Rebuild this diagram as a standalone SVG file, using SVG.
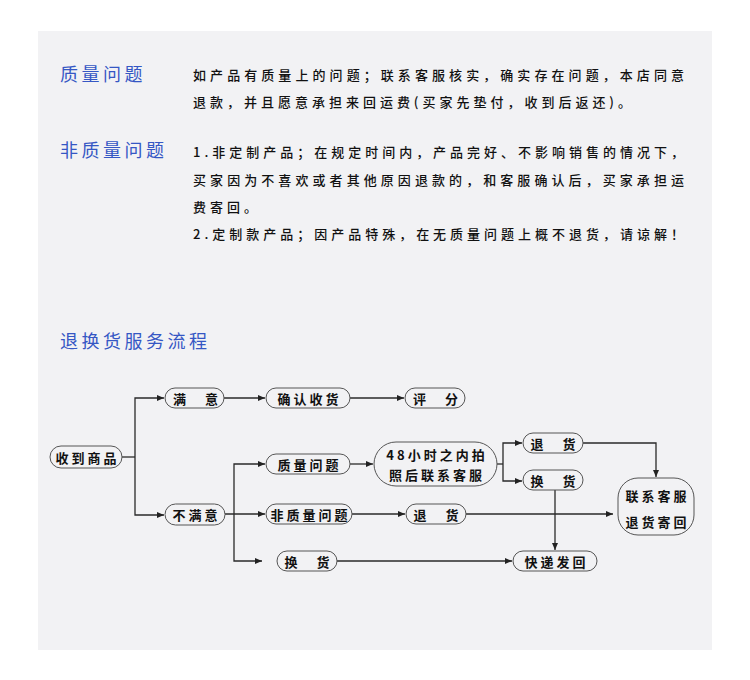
<svg xmlns="http://www.w3.org/2000/svg" width="750" height="680" viewBox="0 0 750 680">
<defs>
<marker id="arr" markerWidth="7" markerHeight="6" refX="7" refY="3" orient="auto" markerUnits="userSpaceOnUse">
<path d="M0,0 L7,3 L0,6 z" fill="#222"/>
</marker>
<style>
.h{font-family:"Noto Sans CJK SC","Noto Sans",sans-serif;font-size:18px;fill:#3557c4;letter-spacing:3.5px}
.b{font-family:"Noto Sans CJK SC","Noto Sans",sans-serif;font-size:13px;fill:#111;letter-spacing:4px;font-weight:500}
.p{fill:none;stroke:#555;stroke-width:1}
.t{font-family:"Noto Sans CJK SC","Noto Sans",sans-serif;font-size:13px;fill:#111;font-weight:600;text-anchor:middle;dominant-baseline:central;letter-spacing:3px}
.c{fill:none;stroke:#2a2a2a;stroke-width:1.3}
.a{marker-end:url(#arr)}
</style>
</defs>
<rect x="0" y="0" width="750" height="680" fill="#ffffff"/>
<rect x="38" y="31" width="674" height="619" fill="#f2f2f4"/>

<g id="text">
<text class="h" x="60" y="81">质量问题</text>
<text class="b" x="193" y="80" textLength="495" lengthAdjust="spacing">如产品有质量上的问题；联系客服核实，确实存在问题，本店同意</text>
<text class="b" x="193" y="107" textLength="442" lengthAdjust="spacing">退款，并且愿意承担来回运费(买家先垫付，收到后返还)。</text>
<text class="h" x="60" y="157">非质量问题</text>
<text class="b" x="193" y="157" textLength="495" lengthAdjust="spacing">1.非定制产品；在规定时间内，产品完好、不影响销售的情况下，</text>
<text class="b" x="193" y="185" textLength="495" lengthAdjust="spacing">买家因为不喜欢或者其他原因退款的，和客服确认后，买家承担运</text>
<text class="b" x="193" y="212">费寄回。</text>
<text class="b" x="193" y="239" textLength="495" lengthAdjust="spacing">2.定制款产品；因产品特殊，在无质量问题上概不退货，请谅解！</text>
<text class="h" x="60" y="348">退换货服务流程</text>
</g>

<g id="connectors">
<path class="c" d="M122 457 H135"/>
<path class="c a" d="M135 457 V398 H164"/>
<path class="c a" d="M135 457 V515 H164"/>
<path class="c a" d="M224 398 H265"/>
<path class="c a" d="M350 398 H404"/>
<path class="c a" d="M225 514 H265"/>
<path class="c a" d="M234 514 V464 H265"/>
<path class="c a" d="M234 514 V561 H262"/>
<path class="c a" d="M350 464 H373"/>
<path class="c" d="M497 464 H503"/>
<path class="c a" d="M503 464 V443 H522"/>
<path class="c a" d="M503 464 V481 H522"/>
<path class="c a" d="M583 443 H656 V477"/>
<path class="c a" d="M555 490 V550"/>
<path class="c a" d="M352 514 H405"/>
<path class="c a" d="M466 514 H613"/>
<path class="c a" d="M337 561 H512"/>
</g>

<g id="n-receive"><rect class="p" x="50" y="446" width="72" height="22" rx="11"/><text class="t" x="87.5" y="457">收到商品</text></g>
<g id="n-satisfied"><rect class="p" x="165" y="388" width="59" height="20" rx="10"/><text class="t" x="197" y="398">满　意</text></g>
<g id="n-confirm"><rect class="p" x="266" y="388" width="84" height="20" rx="10"/><text class="t" x="309.5" y="398">确认收货</text></g>
<g id="n-rate"><rect class="p" x="405" y="388" width="60" height="20" rx="10"/><text class="t" x="437" y="398">评　分</text></g>
<g id="n-unsatisfied"><rect class="p" x="165" y="504" width="60" height="21" rx="10.5"/><text class="t" x="196.5" y="514.5">不满意</text></g>
<g id="n-quality"><rect class="p" x="266" y="454" width="84" height="20" rx="10"/><text class="t" x="309.5" y="464">质量问题</text></g>
<g id="n-48h"><rect class="p" x="374" y="442" width="123" height="44" rx="22"/><text class="t" x="437" y="454">48小时之内拍</text><text class="t" x="437" y="474">照后联系客服</text></g>
<g id="n-return1"><rect class="p" x="523" y="433" width="60" height="20" rx="10"/><text class="t" x="554.5" y="443">退　货</text></g>
<g id="n-exchange1"><rect class="p" x="523" y="470" width="60" height="20" rx="10"/><text class="t" x="554.5" y="480">换　货</text></g>
<g id="n-contact"><rect class="p" x="618" y="478" width="76" height="57" rx="20"/><text class="t" x="657.5" y="495">联系客服</text><text class="t" x="657.5" y="521">退货寄回</text></g>
<g id="n-nonquality"><rect class="p" x="266" y="504" width="86" height="20" rx="10"/><text class="t" x="310.5" y="514">非质量问题</text></g>
<g id="n-return2"><rect class="p" x="406" y="504" width="60" height="20" rx="10"/><text class="t" x="437.5" y="514">退　货</text></g>
<g id="n-exchange2"><rect class="p" x="277" y="551" width="60" height="20" rx="10"/><text class="t" x="308.5" y="561">换　货</text></g>
<g id="n-express"><rect class="p" x="513" y="551" width="84" height="20" rx="10"/><text class="t" x="556.5" y="561">快递发回</text></g>
</svg>
